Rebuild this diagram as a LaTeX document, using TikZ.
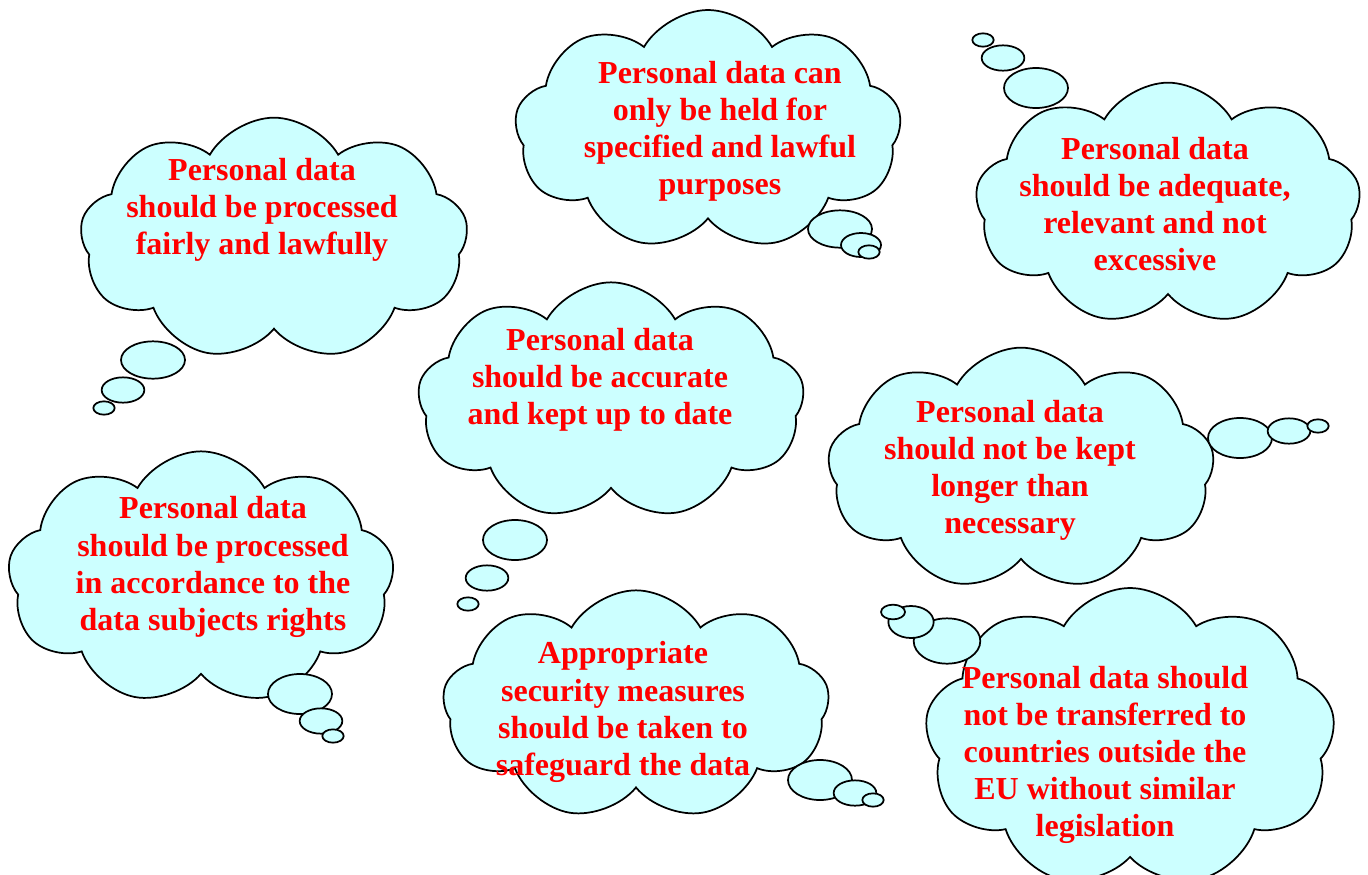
\documentclass[tikz,border=0pt]{standalone}
\usepackage{fontspec}
\setmainfont{Liberation Serif}
\usetikzlibrary{shapes.symbols,shapes.geometric}
\definecolor{bub}{HTML}{CCFFFF}
\definecolor{txtred}{HTML}{FF0000}
\tikzset{
  cloudbox/.style={cloud, cloud puffs=9, cloud puff arc=120, cloud ignores aspect, draw=black, line width=1.3pt, fill=bub, inner sep=0pt},
  tailbox/.style={ellipse, draw=black, line width=1.3pt, fill=bub, inner sep=0pt},
  msg/.style={text=txtred, font=\fontsize{24pt}{27.8pt}\selectfont\bfseries, align=center, inner sep=0pt}
}
\begin{document}
\begin{tikzpicture}[x=0.75pt,y=-0.75pt]
\useasboundingbox (0,0) rectangle (1368,875);
\begin{scope}
\clip (0,0) rectangle (1368,875);
% cloud 1
\node[cloudbox, minimum width=291pt, minimum height=182pt] (c1) at (274,239) {};
\node[tailbox, minimum width=48pt, minimum height=28pt] (e1a) at (153,360) {};
\node[tailbox, minimum width=32pt, minimum height=19pt] (e1b) at (123,390) {};
\node[tailbox, minimum width=16pt, minimum height=10pt] (e1c) at (104,408) {};
\node[msg] (t1) at (262,210) {Personal data\\should be processed\\fairly and lawfully};
% cloud 2
\node[cloudbox, minimum width=290pt, minimum height=180pt] (c2) at (708,130) {};
\node[tailbox, minimum width=48pt, minimum height=28pt] (e2a) at (840,229) {};
\node[tailbox, minimum width=30pt, minimum height=18pt] (e2b) at (861,245) {};
\node[tailbox, minimum width=16pt, minimum height=10pt] (e2c) at (869,252) {};
\node[msg] (t2) at (720,131) {Personal data can\\only be held for\\specified and lawful\\purposes};
% cloud 3
\node[cloudbox, minimum width=289pt, minimum height=182pt] (c3) at (1168,204) {};
\node[tailbox, minimum width=48pt, minimum height=30pt] (e3a) at (1036,88) {};
\node[tailbox, minimum width=32pt, minimum height=19pt] (e3b) at (1003,58) {};
\node[tailbox, minimum width=16pt, minimum height=10pt] (e3c) at (983,40) {};
\node[msg] (t3) at (1155,204) {Personal data\\should be adequate,\\relevant and not\\excessive};
% cloud 4
\node[cloudbox, minimum width=290pt, minimum height=178pt] (c4) at (611,401) {};
\node[tailbox, minimum width=48pt, minimum height=30pt] (e4a) at (515,540) {};
\node[tailbox, minimum width=32pt, minimum height=19pt] (e4b) at (487,578) {};
\node[tailbox, minimum width=16pt, minimum height=10pt] (e4c) at (468,604) {};
\node[msg] (t4) at (600,380) {Personal data\\should be accurate\\and kept up to date};
% cloud 5
\node[cloudbox, minimum width=290pt, minimum height=182pt] (c5) at (1021,469) {};
\node[tailbox, minimum width=48pt, minimum height=30pt] (e5a) at (1240,438) {};
\node[tailbox, minimum width=32pt, minimum height=19pt] (e5b) at (1289,431) {};
\node[tailbox, minimum width=16pt, minimum height=10pt] (e5c) at (1318,426) {};
\node[msg] (t5) at (1010,470) {Personal data\\should not be kept\\longer than\\necessary};
% cloud 6
\node[cloudbox, minimum width=290pt, minimum height=190pt] (c6) at (201,578) {};
\node[tailbox, minimum width=48pt, minimum height=30pt] (e6a) at (300,694) {};
\node[tailbox, minimum width=32pt, minimum height=19pt] (e6b) at (321,721) {};
\node[tailbox, minimum width=16pt, minimum height=10pt] (e6c) at (333,736) {};
\node[msg] (t6) at (213,567) {Personal data\\should be processed\\in accordance to the\\data subjects rights};
% cloud 7
\node[cloudbox, minimum width=290pt, minimum height=172pt] (c7) at (636,705) {};
\node[tailbox, minimum width=48pt, minimum height=30pt] (e7a) at (820,780) {};
\node[tailbox, minimum width=32pt, minimum height=19pt] (e7b) at (855,793) {};
\node[tailbox, minimum width=16pt, minimum height=10pt] (e7c) at (873,800) {};
\node[msg] (t7) at (623,712) {Appropriate\\security measures\\should be taken to\\safeguard the data};
% cloud 8
\node[cloudbox, minimum width=308pt, minimum height=225pt] (c8) at (1130,738) {};
\node[tailbox, minimum width=50pt, minimum height=34pt] (e8a) at (947,641) {};
\node[tailbox, minimum width=34pt, minimum height=24pt] (e8b) at (911,622) {};
\node[tailbox, minimum width=18pt, minimum height=11pt] (e8c) at (893,612) {};
\node[msg] (t8) at (1105,755) {Personal data should\\not be transferred to\\countries outside the\\EU without similar\\legislation};
\end{scope}
\end{tikzpicture}
\end{document}
